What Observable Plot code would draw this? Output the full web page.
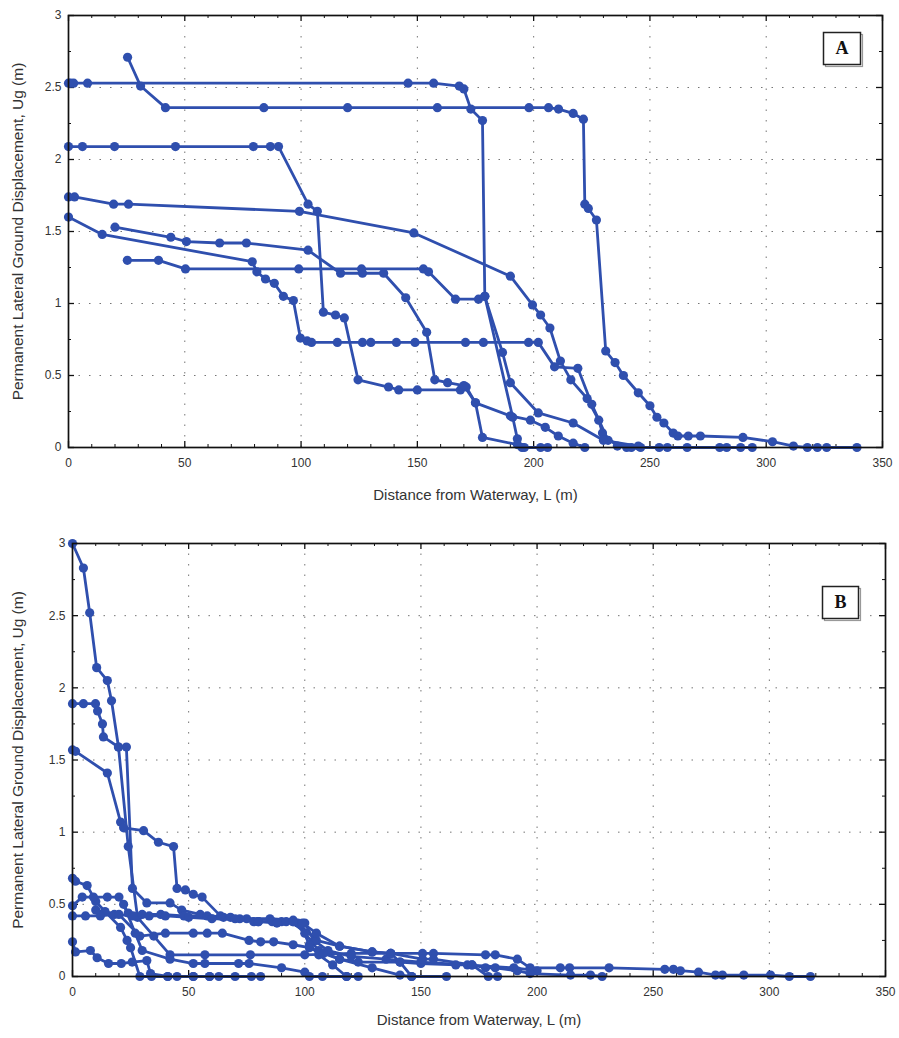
<!DOCTYPE html>
<html>
<head>
<meta charset="utf-8">
<script src="https://cdn.jsdelivr.net/npm/d3@7"></script>
<script src="https://cdn.jsdelivr.net/npm/@observablehq/plot@0.6"></script>
<style>
  body { margin: 0; background: #fff; }
  #chart svg { display: block; }
</style>
</head>
<body>
<div id="chart"></div>
<script>
// ---------- tick values ----------
const xTicks = [0, 50, 100, 150, 200, 250, 300, 350];
const yTicks = [0, 0.5, 1, 1.5, 2, 2.5, 3];
const xMinorTicks = [10,20,30,40,60,70,80,90,110,120,130,140,160,170,180,190,210,220,230,240,260,270,280,290,310,320,330,340];
const yMinorTicks = [0.25, 0.75, 1.25, 1.75, 2.25, 2.75];

const xLabel = "Distance from Waterway, L (m)";
const yLabel = "Permanent Lateral Ground Displacement, Ug (m)";

// ---------- Panel A series ----------
const a1_x = [0, 0.9, 2.2, 8.2, 146, 157, 168, 170, 173, 178, 179, 191, 193, 195, 203, 206];
const a1_y = [2.53, 2.53, 2.53, 2.53, 2.53, 2.53, 2.51, 2.49, 2.35, 2.27, 1.05, 0.21, 0.06, 0, 0, 0];

const a2_x = [25.4, 31, 41.7, 84, 120, 158.6, 198, 206.4, 210.7, 217, 221.4, 222, 223.5, 227, 231, 235, 238.6, 245, 250, 253, 256, 260, 262, 266.5, 271.7, 290, 302.7, 311.7, 317.7, 322, 326, 339];
const a2_y = [2.71, 2.51, 2.36, 2.36, 2.36, 2.36, 2.36, 2.36, 2.35, 2.32, 2.28, 1.69, 1.66, 1.58, 0.67, 0.59, 0.50, 0.38, 0.29, 0.21, 0.17, 0.10, 0.08, 0.08, 0.08, 0.07, 0.04, 0.01, 0, 0, 0, 0];

const a3_x = [0, 6, 19.8, 46, 79.5, 86.8, 90.3, 103, 107, 109.6, 114.8, 118.6, 124.5, 137.6, 142, 150, 168.5, 171, 175, 178, 193, 196];
const a3_y = [2.09, 2.09, 2.09, 2.09, 2.09, 2.09, 2.09, 1.69, 1.64, 0.94, 0.92, 0.90, 0.47, 0.42, 0.40, 0.40, 0.40, 0.42, 0.31, 0.07, 0.02, 0];

const a4_x = [0, 2.6, 19.4, 25.8, 99.3, 148.5, 190, 199.5, 203, 207, 211.5, 216, 223, 228, 229.6, 236, 242, 246, 254, 257.5, 266, 280, 283, 289, 294];
const a4_y = [1.74, 1.74, 1.69, 1.69, 1.64, 1.49, 1.19, 0.99, 0.92, 0.83, 0.60, 0.47, 0.34, 0.19, 0.10, 0.01, 0, 0, 0, 0, 0, 0, 0, 0, 0];

const a5_x = [0, 14.5, 79, 81, 84.7, 88.5, 92.4, 96.7, 99.7, 102.6, 104.5, 115.6, 126.4, 130, 141, 149, 170.7, 178.4, 197.8, 202, 209, 219, 225, 232, 240];
const a5_y = [1.60, 1.48, 1.29, 1.22, 1.17, 1.14, 1.05, 1.02, 0.76, 0.74, 0.73, 0.73, 0.73, 0.73, 0.73, 0.73, 0.73, 0.73, 0.73, 0.73, 0.56, 0.55, 0.30, 0.05, 0];

const a6_x = [20, 44, 50.7, 65, 76.5, 103, 117, 126.4, 135.5, 145, 154, 157.5, 163, 170, 175, 190, 198.6, 205, 210.6, 217, 222];
const a6_y = [1.53, 1.46, 1.43, 1.42, 1.42, 1.37, 1.21, 1.21, 1.21, 1.04, 0.80, 0.47, 0.45, 0.43, 0.31, 0.22, 0.19, 0.14, 0.08, 0.03, 0];

const a7_x = [25.3, 38.7, 50.3, 99, 126, 152.6, 154.8, 166.4, 176.3, 179, 186.6, 190, 202, 217, 230, 245];
const a7_y = [1.30, 1.30, 1.24, 1.24, 1.24, 1.24, 1.22, 1.03, 1.03, 1.05, 0.66, 0.45, 0.24, 0.17, 0.05, 0.01];

// ---------- Panel B series ----------
const b1_x = [0, 4.7, 7.4, 10.4, 15, 16.8, 19.8, 23.2, 25.8, 32, 42, 47, 55, 65, 75, 85, 95, 100, 104, 110, 120, 135, 150, 170, 190, 200];
const b1_y = [3.0, 2.83, 2.52, 2.14, 2.05, 1.91, 1.59, 1.59, 0.61, 0.51, 0.51, 0.46, 0.43, 0.41, 0.40, 0.40, 0.39, 0.37, 0.25, 0.18, 0.14, 0.12, 0.10, 0.08, 0.06, 0.04];

const b2_x = [0, 4.7, 9.9, 10.8, 12.9, 13.3, 19.8, 24, 28, 35, 42, 57, 76.6, 100, 120, 137, 150.7, 155.4, 177.8, 182, 191.5, 197, 210, 214, 231, 255, 258.7, 261.7, 269.5, 276.8, 279.8, 289, 300.5, 308.6, 317.7];
const b2_y = [1.89, 1.89, 1.89, 1.84, 1.75, 1.66, 1.59, 0.90, 0.41, 0.28, 0.15, 0.15, 0.15, 0.15, 0.16, 0.16, 0.16, 0.16, 0.15, 0.15, 0.12, 0.06, 0.06, 0.06, 0.06, 0.05, 0.05, 0.04, 0.03, 0.01, 0.01, 0.01, 0.01, 0, 0];

const b3_x = [0, 1.3, 15, 20.7, 22, 30.6, 37, 43.5, 45, 48.6, 52, 55.8, 63.7, 72, 80, 90, 97, 105, 115, 129, 137, 141, 146];
const b3_y = [1.57, 1.56, 1.41, 1.07, 1.03, 1.01, 0.93, 0.90, 0.61, 0.60, 0.57, 0.55, 0.42, 0.40, 0.38, 0.38, 0.37, 0.25, 0.21, 0.17, 0.16, 0.10, 0];

const b4_x = [0, 1.3, 6.3, 10, 14, 20.7, 23.5, 25, 29, 34, 41, 45, 52, 59];
const b4_y = [0.68, 0.66, 0.63, 0.52, 0.45, 0.34, 0.25, 0.20, 0, 0, 0, 0, 0, 0];

const b5_x = [0, 4.2, 9, 15, 20, 24, 30, 38, 48, 58, 68, 78, 86, 92, 98, 102, 106, 112, 118, 123];
const b5_y = [0.49, 0.55, 0.55, 0.55, 0.55, 0.44, 0.43, 0.43, 0.42, 0.42, 0.41, 0.38, 0.38, 0.38, 0.36, 0.22, 0.15, 0.08, 0, 0];

const b6_x = [0, 5.6, 12, 18, 26, 33, 40, 50, 60, 70, 80, 88, 95, 100, 106, 115, 123, 141, 150, 165, 172, 179, 183];
const b6_y = [0.42, 0.42, 0.42, 0.43, 0.42, 0.42, 0.42, 0.41, 0.40, 0.40, 0.38, 0.37, 0.38, 0.30, 0.18, 0.12, 0.10, 0.10, 0.09, 0.08, 0.08, 0, 0];

const b7_x = [0, 1.3, 7.7, 10.6, 15.5, 21, 25.7, 32, 33.6, 41, 52, 59, 63, 70, 77, 81];
const b7_y = [0.24, 0.17, 0.18, 0.13, 0.09, 0.09, 0.10, 0.11, 0.02, 0, 0, 0, 0, 0, 0, 0];

const b8_x = [10, 20, 29, 40, 52, 58, 64.5, 76, 81, 86.6, 95, 102, 108, 115, 129, 141, 146, 161];
const b8_y = [0.46, 0.43, 0.28, 0.30, 0.30, 0.30, 0.30, 0.25, 0.24, 0.24, 0.22, 0.20, 0.16, 0.12, 0.06, 0.01, 0, 0];

const b9_x = [22, 27, 30, 42, 52, 57, 71.5, 76, 90, 100, 102, 107.6, 118];
const b9_y = [0.50, 0.30, 0.18, 0.12, 0.09, 0.09, 0.09, 0.09, 0.06, 0.03, 0, 0, 0];

const b10_x = [95, 99, 105, 115, 129, 137, 150.7, 155.4, 172, 177.8, 182, 191.5, 197, 214.4, 223, 228];
const b10_y = [0.38, 0.37, 0.30, 0.21, 0.17, 0.16, 0.12, 0.12, 0.08, 0.06, 0.06, 0.04, 0.02, 0.01, 0.01, 0];

// ---------- build tables ----------
function rows(name, xs, ys) { return xs.map((x, i) => ({ s: name, x, y: ys[i] })); }

const dataA = [
  ...rows("A1", a1_x, a1_y), ...rows("A2", a2_x, a2_y), ...rows("A3", a3_x, a3_y),
  ...rows("A4", a4_x, a4_y), ...rows("A5", a5_x, a5_y), ...rows("A6", a6_x, a6_y),
  ...rows("A7", a7_x, a7_y)
];
const dataB = [
  ...rows("B1", b1_x, b1_y), ...rows("B2", b2_x, b2_y), ...rows("B3", b3_x, b3_y),
  ...rows("B4", b4_x, b4_y), ...rows("B5", b5_x, b5_y), ...rows("B6", b6_x, b6_y),
  ...rows("B7", b7_x, b7_y), ...rows("B8", b8_x, b8_y), ...rows("B9", b9_x, b9_y),
  ...rows("B10", b10_x, b10_y)
];

const blue = "#2f4fae";
const W = 899;

function panel(data, o) {
  const innerH = o.height - o.marginTop - o.marginBottom;
  const innerW = W - o.marginLeft - o.marginRight;
  const tickStroke = "#111";
  return Plot.plot({
    width: W,
    height: o.height,
    marginTop: o.marginTop,
    marginBottom: o.marginBottom,
    marginLeft: o.marginLeft,
    marginRight: o.marginRight,
    x: { domain: [0, 350] },
    y: { domain: [0, 3] },
    style: { fontFamily: "'Liberation Sans', Arial, sans-serif", fontSize: "12px", color: "#333", background: "white", overflow: "visible" },
    marks: [
      Plot.gridX(xTicks.slice(1, -1), { stroke: "#666", strokeOpacity: 0.9, strokeDasharray: "1.5,9" }),
      Plot.gridY(yTicks.slice(1, -1), { stroke: "#666", strokeOpacity: 0.9, strokeDasharray: "1.5,9" }),
      // inward ticks (bottom / top / left / right)
      Plot.ruleX(xTicks, { x: d => d, insetTop: innerH - 6, stroke: tickStroke, strokeWidth: 1.3 }),
      Plot.ruleX(xTicks, { x: d => d, insetBottom: innerH - 6, stroke: tickStroke, strokeWidth: 1.3 }),
      Plot.ruleX(xMinorTicks, { x: d => d, insetTop: innerH - 3, stroke: tickStroke }),
      Plot.ruleX(xMinorTicks, { x: d => d, insetBottom: innerH - 3, stroke: tickStroke }),
      Plot.ruleY(yTicks, { y: d => d, insetRight: innerW - 6, stroke: tickStroke, strokeWidth: 1.3 }),
      Plot.ruleY(yTicks, { y: d => d, insetLeft: innerW - 6, stroke: tickStroke, strokeWidth: 1.3 }),
      Plot.ruleY(yMinorTicks, { y: d => d, insetRight: innerW - 3, stroke: tickStroke }),
      Plot.ruleY(yMinorTicks, { y: d => d, insetLeft: innerW - 3, stroke: tickStroke }),
      // data
      Plot.line(data, { x: "x", y: "y", z: "s", stroke: blue, strokeWidth: 2.8, strokeLinejoin: "round" }),
      Plot.dot(data, { x: "x", y: "y", r: 4.6, fill: blue, stroke: "none" }),
      Plot.frame({ stroke: "#111", strokeWidth: 1.7 }),
      // tick labels
      Plot.axisX(xTicks, { tickSize: 0, tickPadding: 11, label: null, fontSize: 12, fill: "#333" }),
      Plot.axisY(yTicks, { tickSize: 0, tickPadding: 7, label: null, tickFormat: d => String(d), fontSize: 12, fill: "#333" }),
      // axis titles
      Plot.text([xLabel], { frameAnchor: "bottom", dy: o.xLabelDy, textAnchor: "middle", lineAnchor: "middle", fontSize: 15, letterSpacing: 1.2, fill: "#333" }),
      Plot.text([yLabel], { frameAnchor: "left", dx: o.yLabelDx, dy: o.yLabelDy, textAnchor: "middle", lineAnchor: "middle", rotate: -90, fontSize: 15.5, letterSpacing: 1, fill: "#333" }),
      // panel letter box
      Plot.frame({ stroke: "#999", strokeWidth: 1.2, insetLeft: o.box[0] + 2, insetRight: o.box[1] - 2, insetTop: o.box[2] + 2, insetBottom: o.box[3] - 2 }),
      Plot.frame({ fill: "white", stroke: "#222", strokeWidth: 1.5, insetLeft: o.box[0], insetRight: o.box[1], insetTop: o.box[2], insetBottom: o.box[3] }),
      Plot.text([o.letter], { frameAnchor: "top-right", dx: o.letterDx, dy: o.letterDy, textAnchor: "middle", lineAnchor: "middle", fontFamily: "'Liberation Serif', 'Times New Roman', serif", fontWeight: "bold", fontSize: 18, fill: "#111" })
    ]
  });
}

const chart = document.getElementById("chart");
chart.append(panel(dataA, {
  height: 520, marginTop: 15, marginBottom: 73, marginLeft: 68, marginRight: 17,
  xLabelDy: 48, yLabelDx: -50, yLabelDy: 0,
  box: [755, 22, 17, 383], letter: "A", letterDx: -40.5, letterDy: 32.5
}));
chart.append(panel(dataB, {
  height: 518, marginTop: 23, marginBottom: 62, marginLeft: 72, marginRight: 14,
  xLabelDy: 44, yLabelDx: -54, yLabelDy: 0,
  box: [750, 27, 43, 358], letter: "B", letterDx: -45, letterDy: 59
}));
</script>
</body>
</html>
